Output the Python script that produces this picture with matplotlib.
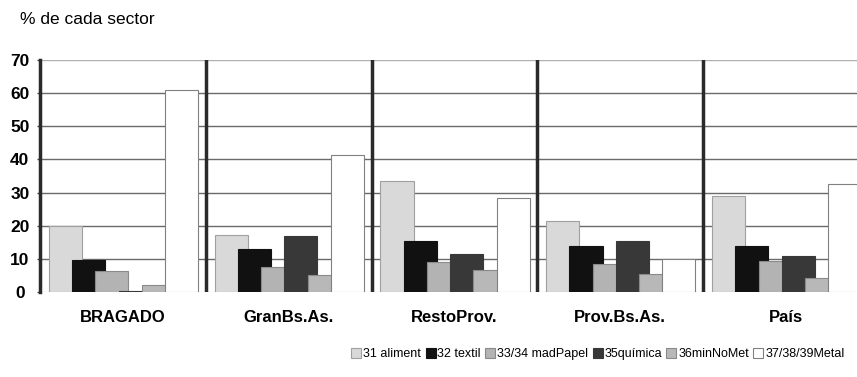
#!/usr/bin/env python3

import numpy as np
import matplotlib
matplotlib.use("Agg")
import matplotlib.pyplot as plt

plt.rcParams['font.family'] = ['Liberation Sans', 'DejaVu Sans']

groups = ['BRAGADO', 'GranBs.As.', 'RestoProv.', 'Prov.Bs.As.', 'País']
series_names = ['31 aliment', '32 textil', '33/34 madPapel', '35química',
                '36minNoMet', '37/38/39Metal']

aliment = [20, 17.3, 33.5, 21.5, 29]
textil = [9.8, 13, 15.5, 13.8, 14]
mad_papel = [6.3, 7.5, 9, 8.5, 9.5]
quimica = [0.4, 16.8, 11.5, 15.5, 11]
min_no_met = [2, 5, 6.5, 5.5, 4.2]
metal = [61, 41.3, 28.3, 10, 32.5]

yticks = [0, 10, 20, 30, 40, 50, 60, 70]


def main():
    values = [aliment, textil, mad_papel, quimica, min_no_met, metal]
    faces = ['#d9d9d9', '#111111', '#b3b3b3', '#383838', '#b8b8b8', '#ffffff']
    edges = ['#a0a0a0', '#111111', '#8a8a8a', '#383838', '#8a8a8a', '#808080']

    fig = plt.figure(figsize=(8.57, 3.77), dpi=100)
    ax = fig.add_axes([40 / 857, 1 - 292 / 377, 1 - 40 / 857, (292 - 60) / 377])

    x = np.arange(len(groups))
    width = 0.2
    step = 0.14
    first = -0.5 + (25.5 / 166)

    # horizontal grid
    for y in yticks[1:]:
        ax.axhline(y, color='#6a6a6a' if y < 70 else '#b0b0b0', lw=1.0, zorder=1)

    for i, (vals, name) in enumerate(zip(values, series_names)):
        ax.bar(x + first + i * step, vals, width=width, align='center',
               color=faces[i], edgecolor=edges[i], linewidth=0.8,
               label=name, zorder=2 + i)

    # group separators
    for sep in x[:-1] + 0.5:
        ax.axvline(sep, color='#2a2a2a', lw=2.5, zorder=10)
    ax.axhline(0, color='#9a9a9a', lw=0.8, zorder=1)

    ax.set_xlim(-0.5, 4.5 - 12 / 166)
    ax.set_ylim(0, 70)
    for s in ['top', 'right', 'bottom']:
        ax.spines[s].set_visible(False)
    ax.spines['left'].set_linewidth(2.5)
    ax.spines['left'].set_color('#2a2a2a')

    ax.set_yticks(yticks)
    ax.set_yticklabels([str(t) for t in yticks], fontsize=12.5, fontweight='bold',
                       ha='center')
    ax.tick_params(axis='y', length=2.5, width=1, color='#444444', pad=12)
    ax.set_xticks(x)
    ax.set_xticklabels(groups, fontsize=12, fontweight='bold')
    ax.tick_params(axis='x', length=0, pad=13)

    fig.text(20 / 857, 1 - 20 / 377, '% de cada sector', fontsize=12.5,
             va='center', ha='left')

    fig.legend(loc='center', bbox_to_anchor=(598 / 857, 1 - 354 / 377),
               ncol=6, frameon=False, fontsize=9,
               handlelength=0.8, handleheight=0.8, handletextpad=0.15,
               columnspacing=0.35, borderaxespad=0)

    fig.savefig('out.png', dpi=100)
    return 0


if __name__ == "__main__":
    main()
